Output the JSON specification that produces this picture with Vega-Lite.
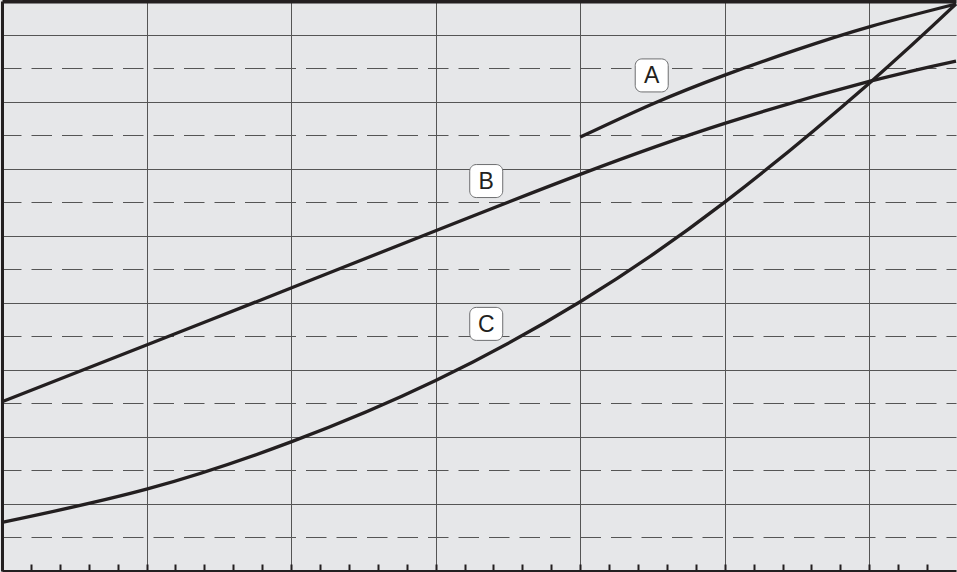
{
  "$schema": "https://vega.github.io/schema/vega-lite/v6.json",
  "width": 954,
  "height": 570,
  "autosize": {"type": "none"},
  "padding": {"left": 2, "top": 1, "right": 1, "bottom": 1},
  "background": "#e6e7e9",
  "config": {
    "view": {"stroke": null, "fill": "#e6e7e9"},
    "font": "Liberation Sans"
  },
  "datasets": {
    "curves": [
      {"series": "A", "x": 4.0, "y": 12.94},
      {"series": "A", "x": 4.5, "y": 13.93},
      {"series": "A", "x": 5.0, "y": 14.79},
      {"series": "A", "x": 5.5, "y": 15.55},
      {"series": "A", "x": 6.0, "y": 16.23},
      {"series": "A", "x": 6.6, "y": 16.91},
      {"series": "B", "x": 0.0, "y": 5.05},
      {"series": "B", "x": 1.0, "y": 6.74},
      {"series": "B", "x": 2.0, "y": 8.44},
      {"series": "B", "x": 3.0, "y": 10.15},
      {"series": "B", "x": 4.0, "y": 11.83},
      {"series": "B", "x": 5.0, "y": 13.35},
      {"series": "B", "x": 6.0, "y": 14.6},
      {"series": "B", "x": 6.6, "y": 15.21},
      {"series": "C", "x": 0.0, "y": 1.45},
      {"series": "C", "x": 1.0, "y": 2.44},
      {"series": "C", "x": 2.0, "y": 3.85},
      {"series": "C", "x": 3.0, "y": 5.68},
      {"series": "C", "x": 4.0, "y": 8.03},
      {"series": "C", "x": 5.0, "y": 11.0},
      {"series": "C", "x": 6.0, "y": 14.55},
      {"series": "C", "x": 6.6, "y": 16.91}
    ],
    "labels": [
      {"label": "A", "x": 4.495, "y": 14.78},
      {"label": "B", "x": 3.35, "y": 11.63},
      {"label": "C", "x": 3.35, "y": 7.37}
    ]
  },
  "layer": [
    {
      "data": {"name": "curves"},
      "mark": {"type": "line", "stroke": "#231f20", "strokeWidth": 3.3, "interpolate": "natural"},
      "encoding": {
        "x": {
          "field": "x", "type": "quantitative",
          "scale": {"domain": [0, 6.6], "nice": false, "zero": false},
          "axis": {
            "orient": "bottom", "title": null, "labels": false,
            "values": [0.2,0.4,0.6,0.8,1,1.2,1.4,1.6,1.8,2,2.2,2.4,2.6,2.8,3,3.2,3.4,3.6,3.8,4,4.2,4.4,4.6,4.8,5,5.2,5.4,5.6,5.8,6,6.2,6.4],
            "domain": true, "domainColor": "#231f20", "domainWidth": 3,
            "ticks": true, "tickColor": "#231f20", "tickWidth": 2, "tickSize": -7,
            "grid": true, "gridColor": "#555555", "gridWidth": 1,
            "gridOpacity": {"condition": {"test": "abs(datum.value - round(datum.value)) < 0.01", "value": 1}, "value": 0}
          }
        },
        "y": {
          "field": "y", "type": "quantitative",
          "scale": {"domain": [0, 17], "nice": false, "zero": false},
          "axis": {
            "orient": "left", "title": null, "labels": false, "ticks": false,
            "values": [1,2,3,4,5,6,7,8,9,10,11,12,13,14,15,16],
            "domain": true, "domainColor": "#231f20", "domainWidth": 3,
            "grid": true, "gridColor": "#555555", "gridWidth": 1,
            "gridDashOffset": 1.5,
            "gridDash": {"condition": {"test": "datum.value % 2 === 1", "value": [20.5, 10]}, "value": []}
          }
        },
        "detail": {"field": "series"}
      }
    },
    {
      "data": {"name": "labels"},
      "mark": {
        "type": "point", "filled": true, "fill": "#ffffff", "fillOpacity": 1,
        "stroke": "#6d6e70", "strokeWidth": 1, "opacity": 1, "size": 1089,
        "shape": "M -0.6,-1 L 0.6,-1 A 0.4,0.4 0 0 1 1,-0.6 L 1,0.6 A 0.4,0.4 0 0 1 0.6,1 L -0.6,1 A 0.4,0.4 0 0 1 -1,0.6 L -1,-0.6 A 0.4,0.4 0 0 1 -0.6,-1 Z"
      },
      "encoding": {
        "x": {"field": "x", "type": "quantitative",
          "axis": {"orient": "top", "title": null, "labels": false, "ticks": false, "grid": false,
            "domain": true, "domainColor": "#231f20", "domainWidth": 4}},
        "y": {"field": "y", "type": "quantitative", "axis": null}
      }
    },
    {
      "data": {"name": "labels"},
      "mark": {"type": "text", "font": "Liberation Sans", "fontSize": 23, "color": "#231f20", "baseline": "middle", "align": "center", "dy": 1},
      "encoding": {
        "x": {"field": "x", "type": "quantitative", "axis": null},
        "y": {"field": "y", "type": "quantitative", "axis": null},
        "text": {"field": "label"}
      }
    }
  ],
  "resolve": {"axis": {"x": "independent", "y": "independent"}}
}
